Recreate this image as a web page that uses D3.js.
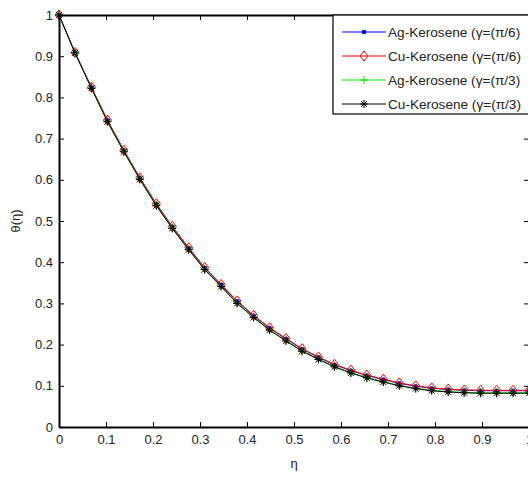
<!DOCTYPE html>
<html>
<head>
<meta charset="utf-8">
<script src="https://d3js.org/d3.v7.min.js"></script>
<style>
  body { margin: 0; background: #fff; font-family: "Liberation Sans", Arial, sans-serif; }
  svg { display: block; overflow: hidden; }
</style>
</head>
<body>
<div id="chart"></div>
<script>
// eta grid (30 points)
var eta = [0, 0.034, 0.069, 0.103, 0.138, 0.172, 0.207, 0.241, 0.276, 0.310,
           0.345, 0.379, 0.414, 0.448, 0.483, 0.517, 0.552, 0.586, 0.621, 0.655,
           0.690, 0.724, 0.759, 0.793, 0.828, 0.862, 0.897, 0.931, 0.966, 1];

var agPi6 = [1.000, 0.909, 0.824, 0.744, 0.671, 0.604, 0.541, 0.486, 0.434, 0.386,
             0.345, 0.305, 0.270, 0.240, 0.214, 0.189, 0.169, 0.151, 0.137, 0.125,
             0.115, 0.106, 0.099, 0.094, 0.091, 0.089, 0.088, 0.088, 0.088, 0.088];
var cuPi6 = [1.000, 0.909, 0.825, 0.745, 0.672, 0.605, 0.542, 0.487, 0.435, 0.387,
             0.346, 0.306, 0.271, 0.241, 0.215, 0.190, 0.170, 0.152, 0.138, 0.126,
             0.116, 0.107, 0.100, 0.095, 0.092, 0.090, 0.089, 0.089, 0.089, 0.089];
var agPi3 = [1.000, 0.908, 0.823, 0.742, 0.669, 0.602, 0.538, 0.483, 0.431, 0.383,
             0.342, 0.301, 0.267, 0.236, 0.210, 0.185, 0.165, 0.147, 0.132, 0.120,
             0.110, 0.101, 0.094, 0.089, 0.086, 0.084, 0.083, 0.083, 0.083, 0.083];
var cuPi3 = [1.000, 0.908, 0.822, 0.741, 0.668, 0.601, 0.537, 0.482, 0.430, 0.382,
             0.341, 0.300, 0.266, 0.235, 0.209, 0.184, 0.164, 0.146, 0.131, 0.119,
             0.109, 0.100, 0.093, 0.088, 0.085, 0.083, 0.082, 0.082, 0.082, 0.082];

var labels = ["Ag-Kerosene (\u03b3=(\u03c0/6)", "Cu-Kerosene (\u03b3=(\u03c0/6)",
              "Ag-Kerosene (\u03b3=(\u03c0/3)", "Cu-Kerosene (\u03b3=(\u03c0/3)"];
var colors = ["#0000ff", "#ff0000", "#00e600", "#000000"];
var markers = ["dot", "diamond", "plus", "star"];
var xTicks = [0, 0.1, 0.2, 0.3, 0.4, 0.5, 0.6, 0.7, 0.8, 0.9, 1];
var yTicks = [0, 0.1, 0.2, 0.3, 0.4, 0.5, 0.6, 0.7, 0.8, 0.9, 1];

var width = 528, height = 478;
var margin = {top: 15, right: -1, bottom: 51, left: 59};

var series = [agPi6, cuPi6, agPi3, cuPi3].map(function(vals, i) {
  return {label: labels[i], color: colors[i], marker: markers[i],
          values: vals.map(function(v, j) { return {x: eta[j], y: v}; })};
});

var svg = d3.select("#chart").append("svg")
    .attr("width", width).attr("height", height);

var x = d3.scaleLinear().domain([0, 1]).range([margin.left, width - margin.right]);
var y = d3.scaleLinear().domain([0, 1]).range([height - margin.bottom, margin.top]);

function drawMarker(g, type, color) {
  if (type == "dot") {
    g.append("circle").attr("r", 2.3).attr("fill", color);
  } else if (type == "diamond") {
    g.append("path").attr("d", "M0,-5L4,0L0,5L-4,0Z")
      .attr("fill", "none").attr("stroke", color).attr("stroke-width", 1);
  } else if (type == "plus") {
    g.append("path").attr("d", "M-4,0H4M0,-4V4")
      .attr("stroke", color).attr("stroke-width", 1);
  } else {
    g.append("path").attr("d", "M-4,0H4M0,-4V4M-3,-3L3,3M-3,3L3,-3")
      .attr("stroke", color).attr("stroke-width", 1);
  }
}

// curves
var line = d3.line().x(function(d) { return x(d.x); }).y(function(d) { return y(d.y); });
series.forEach(function(s) {
  var g = svg.append("g");
  g.append("path").datum(s.values)
    .attr("d", line).attr("fill", "none")
    .attr("stroke", s.color).attr("stroke-width", 1);
  g.selectAll("g.m").data(s.values).enter().append("g")
    .attr("class", "m")
    .attr("transform", function(d) { return "translate(" + x(d.x) + "," + y(d.y) + ")"; })
    .each(function() { drawMarker(d3.select(this), s.marker, s.color); });
});

// axes (ticks inside, on all four sides)
var fs = 13;
var axB = svg.append("g").attr("transform", "translate(0," + y(0) + ")")
  .call(d3.axisBottom(x).tickValues(xTicks).tickSizeInner(-5).tickSizeOuter(0)
        .tickFormat(d3.format("")));
var axL = svg.append("g").attr("transform", "translate(" + x(0) + ",0)")
  .call(d3.axisLeft(y).tickValues(yTicks).tickSizeInner(-5).tickSizeOuter(0)
        .tickFormat(d3.format("")));
var axT = svg.append("g").attr("transform", "translate(0," + y(1) + ")")
  .call(d3.axisTop(x).tickValues(xTicks).tickSizeInner(-5).tickSizeOuter(0).tickFormat(""));
var axR = svg.append("g").attr("transform", "translate(" + x(1) + ",0)")
  .call(d3.axisRight(y).tickValues(yTicks).tickSizeInner(-5).tickSizeOuter(0).tickFormat(""));

[axB, axL, axT, axR].forEach(function(a) {
  a.select(".domain").attr("stroke", "#000").attr("stroke-width", 2);
  a.selectAll(".tick line").attr("stroke", "#000").attr("stroke-width", 1);
});
axB.selectAll("text").attr("font-size", fs).attr("font-family", "Liberation Sans, Arial")
  .attr("fill", "#222").attr("dy", "1.0em").attr("y", 4);
axL.selectAll("text").attr("font-size", fs).attr("font-family", "Liberation Sans, Arial")
  .attr("fill", "#222").attr("x", -6);

// axis titles
svg.append("text").attr("x", x(0.5)).attr("y", 468)
  .attr("text-anchor", "middle").attr("font-size", fs).attr("fill", "#222")
  .text("\u03b7");
svg.append("text")
  .attr("transform", "translate(20," + y(0.5) + ") rotate(-90)")
  .attr("text-anchor", "middle").attr("font-size", fs).attr("fill", "#222")
  .text("\u03b8(\u03b7)");

// legend
var leg = svg.append("g").attr("transform", "translate(333,15)");
leg.append("rect").attr("width", 220).attr("height", 99)
  .attr("fill", "#fff").attr("stroke", "#000").attr("stroke-width", 1.2);
series.forEach(function(s, i) {
  var ry = 17 + i * 24;
  leg.append("line").attr("x1", 9).attr("x2", 53).attr("y1", ry).attr("y2", ry)
    .attr("stroke", s.color).attr("stroke-width", 1);
  var mg = leg.append("g").attr("transform", "translate(31," + ry + ")");
  drawMarker(mg, s.marker, s.color);
  leg.append("text").attr("x", 55).attr("y", ry).attr("dy", "0.35em")
    .attr("font-size", 13.6).attr("fill", "#222").text(s.label);
});
</script>
</body>
</html>
